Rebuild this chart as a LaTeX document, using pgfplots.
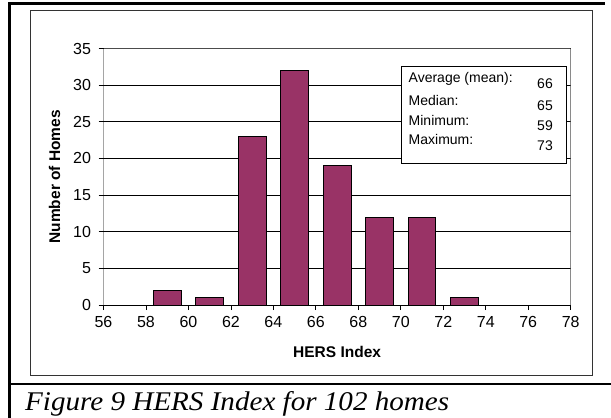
\documentclass[border=0pt]{standalone}
\usepackage{graphicx}
\usepackage{pgfplots}
\pgfplotsset{compat=1.18}
\usepackage{fontspec}
\setmainfont{Liberation Sans}
\newfontfamily\capfont{Liberation Serif}
\definecolor{barc}{HTML}{993366}
\begin{document}
\begin{tikzpicture}[x=1pt,y=1pt]
\useasboundingbox (0,0) rectangle (611,418);
\fill[white] (0,0) rectangle (611,418);
\draw[line width=3pt] (9.3,0) -- (9.3,414) -- (605,414);
\draw[line width=2.5pt] (9.3,34) -- (611,34);
\draw[black!80, line width=1pt] (30,42) rectangle (592,407);
\begin{axis}[
  at={(103.5pt,113pt)}, anchor=south west, scale only axis,
  width=467.2pt, height=256.5pt,
  xmin=56, xmax=78, ymin=0, ymax=35,
  xtick={56,58,...,78}, ytick={0,5,...,35},
  xtick pos=bottom, ytick pos=left,
  ymajorgrids, major grid style={black, line width=0.8pt},
  axis line style={draw=none},
  tick align=outside, major tick length=5pt,
  tick style={black, line width=0.8pt},
  /pgf/number format/assume math mode=true,
  tick label style={font=\fontsize{16}{18}\selectfont},
  yticklabel style={xshift=-4pt},
  xticklabel style={yshift=-3pt},
  xlabel={HERS Index}, ylabel={Number of Homes},
  label style={font=\bfseries\fontsize{15.5}{18}\selectfont},
  xlabel style={at={(axis description cs:0.5,-0.1832)}, anchor=center},
  ylabel style={at={(axis description cs:-0.1049,0.5)}, anchor=center},
]
\addplot[ybar, bar width=1.3, fill=barc, draw=black, line width=0.8pt]
  coordinates {(59,2) (61,1) (63,23) (65,32) (67,19) (69,12) (71,12) (73,1)};
\draw[black!70, line width=0.8pt] (rel axis cs:0,1) -- (rel axis cs:1,1) -- (rel axis cs:1,0);
\draw[black, line width=0.8pt] (rel axis cs:0,1) -- (rel axis cs:0,0) -- (rel axis cs:1,0);
\end{axis}
\draw[fill=white, line width=1pt] (401.7,254.7) rectangle (566,351.3);
\begin{scope}[every node/.style={font=\fontsize{14}{16}\selectfont, inner sep=0}]
\node[anchor=west] at (408.5,338.7) {Average (mean):};
\node[anchor=west] at (408.5,318) {Median:};
\node[anchor=west] at (408.5,298) {Minimum:};
\node[anchor=west] at (408.5,279) {Maximum:};
\node at (545,334.7) {66};
\node at (545,312.3) {65};
\node at (545,292.3) {59};
\node at (545,272) {73};
\end{scope}
\node[anchor=base west, inner sep=0] at (25,7) {\resizebox{424pt}{\height}{\capfont\itshape\fontsize{27}{32}\selectfont Figure 9 HERS Index for 102 homes}};
\end{tikzpicture}
\end{document}
